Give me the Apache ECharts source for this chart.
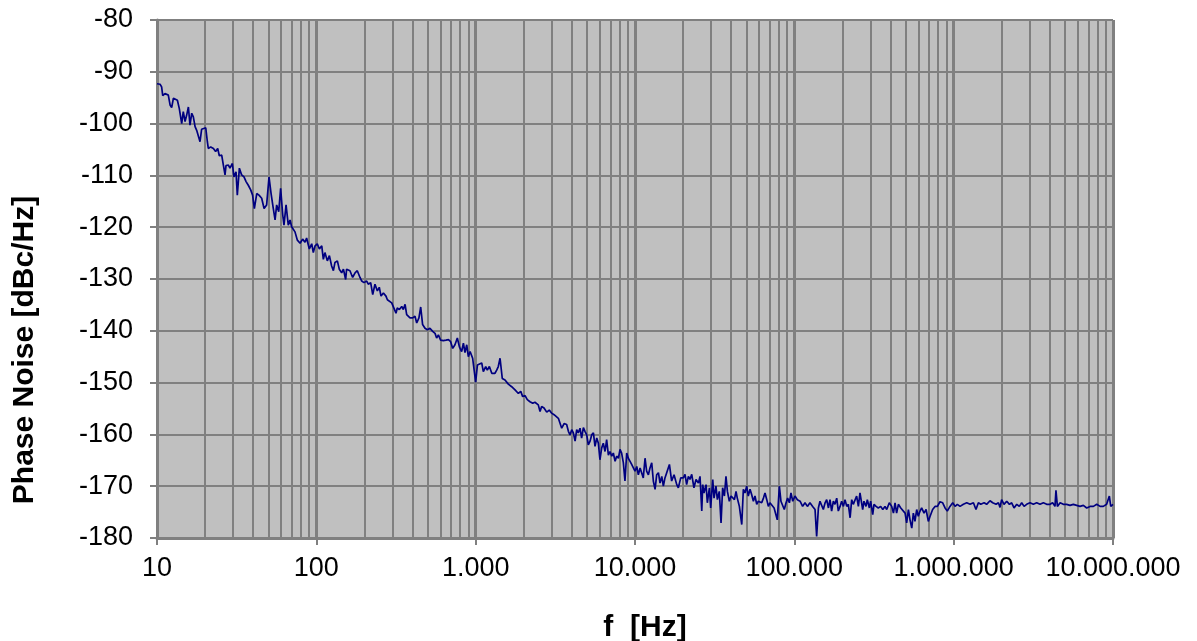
<!DOCTYPE html>
<html>
<head>
<meta charset="utf-8">
<script src="https://cdn.jsdelivr.net/npm/echarts@6/dist/echarts.min.js"></script>
<style>
html,body{margin:0;padding:0;background:#fff;}
#chart{width:1197px;height:641px;}
</style>
</head>
<body>
<div id="chart"></div>
<script>
// log10 of the offset frequency in Hz
const logFreq = [
1.000,1.019,1.029,1.036,1.050,1.061,1.071,1.082,1.092,1.103,1.113,1.128,1.140,1.155,1.165,1.176,1.186,1.197,1.207,1.218,
1.228,1.239,1.249,1.259,1.270,1.280,1.291,1.306,1.316,1.322,1.337,1.354,1.368,1.381,1.391,1.406,1.416,1.427,1.433,1.448,
1.458,1.473,1.483,1.496,1.504,1.517,1.531,1.546,1.559,1.573,1.588,1.600,1.611,1.626,1.640,1.657,1.672,1.688,1.703,1.716,
1.730,1.741,1.751,1.764,1.776,1.789,1.797,1.810,1.824,1.835,1.845,1.856,1.866,1.881,1.898,1.914,1.929,1.939,1.956,1.971,
1.981,1.992,
2.006,2.019,2.034,2.044,2.054,2.069,2.082,2.096,2.107,2.117,2.132,2.144,2.159,2.170,2.184,2.190,2.211,2.228,2.243,2.257,
2.274,2.285,2.299,2.316,2.326,2.341,2.354,2.368,2.383,2.395,2.406,2.421,2.437,2.446,2.458,2.473,2.483,2.500,2.508,2.521,
2.536,2.546,2.557,2.567,2.577,2.588,2.605,2.619,2.630,2.644,2.655,2.667,2.682,2.697,2.713,2.730,2.745,2.755,2.766,2.780,
2.797,2.814,2.829,2.843,2.856,2.870,2.885,2.898,2.912,2.923,2.933,2.944,2.954,2.965,2.981,2.990,
3.000,3.011,3.023,3.038,3.048,3.063,3.073,3.086,3.101,3.111,3.121,3.132,3.142,3.153,3.167,3.184,3.205,3.226,3.247,3.268,
3.283,3.295,3.310,3.324,3.341,3.358,3.372,3.393,3.404,3.414,3.429,3.446,3.462,3.477,3.492,3.504,3.519,3.529,3.540,3.555,
3.571,3.582,3.592,3.603,3.613,3.624,3.634,3.644,3.655,3.665,3.676,3.686,3.697,3.707,3.718,3.728,3.739,3.749,3.760,3.770,
3.780,3.791,3.801,3.812,3.822,3.833,3.843,3.854,3.864,3.875,3.885,3.896,3.906,3.916,3.927,3.937,3.948,3.958,3.969,3.979,
3.990,
4.000,4.011,4.021,4.032,4.042,4.052,4.063,4.073,4.084,4.094,4.105,4.115,4.126,4.136,4.147,4.157,4.168,4.178,4.188,4.199,
4.216,4.230,4.245,4.262,4.272,4.287,4.303,4.314,4.324,4.335,4.345,4.356,4.370,4.383,4.398,4.408,4.419,4.425,4.433,4.446,
4.454,4.467,4.475,4.488,4.496,4.508,4.517,4.529,4.540,4.550,4.561,4.571,4.580,4.592,4.603,4.613,4.624,4.634,4.642,4.655,
4.670,4.680,4.690,4.701,4.711,4.722,4.732,4.743,4.753,4.764,4.774,4.785,4.795,4.806,4.816,4.827,4.837,4.847,4.858,4.873,
4.885,4.893,4.906,4.916,4.927,4.937,4.948,4.958,4.969,4.979,4.990,
5.004,5.019,5.036,5.052,5.067,5.082,5.098,5.115,5.130,5.140,5.151,5.161,5.172,5.182,5.193,5.203,5.214,5.224,5.234,5.245,
5.255,5.266,5.276,5.287,5.297,5.308,5.318,5.329,5.339,5.350,5.360,5.370,5.381,5.391,5.402,5.412,5.429,5.437,5.450,5.458,
5.471,5.479,5.492,5.500,5.513,5.527,5.542,5.555,5.569,5.580,5.596,5.611,5.622,5.632,5.642,5.653,5.668,5.680,5.695,5.705,
5.716,5.726,5.737,5.747,5.757,5.768,5.778,5.789,5.799,5.814,5.827,5.841,5.852,5.868,5.883,5.898,5.914,5.931,5.946,5.960,
5.977,5.994,
6.009,6.023,6.040,6.061,6.082,6.103,6.124,6.140,6.155,6.170,6.191,6.207,6.228,6.245,6.266,6.281,6.291,6.301,6.316,6.333,
6.350,6.364,6.379,6.396,6.412,6.427,6.442,6.458,6.479,6.500,6.521,6.542,6.563,6.584,6.605,6.621,6.636,6.642,6.651,6.668,
6.688,6.709,6.730,6.751,6.772,6.793,6.814,6.835,6.856,6.877,6.898,6.919,6.939,6.960,6.977,6.986,7.000
];

// phase noise in dBc/Hz, one value per frequency above
const phaseNoise = [
-92.3,-92.4,-92.9,-94.6,-94.2,-94.0,-94.5,-96.4,-96.9,-95.1,-94.8,-95.5,-97.1,-100.0,-97.7,-99.6,-98.4,-96.8,-100.3,-98.0,
-98.7,-100.6,-101.3,-101.3,-103.5,-101.1,-101.0,-100.8,-103.5,-104.8,-104.5,-104.8,-105.4,-104.8,-106.2,-106.1,-107.9,-109.9,-108.1,-108.0,
-108.6,-107.7,-110.3,-109.3,-113.8,-108.6,-109.9,-110.3,-111.2,-111.9,-112.8,-113.8,-116.4,-113.5,-113.8,-114.4,-116.4,-115.7,-110.3,-113.5,
-116.4,-118.6,-115.7,-117.0,-112.5,-117.6,-119.6,-115.7,-119.6,-118.6,-119.9,-119.9,-120.9,-122.5,-123.1,-122.3,-122.9,-122.1,-124.2,-123.2,
-124.9,-123.6,
-123.2,-124.2,-123.6,-126.2,-124.9,-126.5,-125.5,-127.5,-128.4,-126.8,-126.5,-128.1,-128.8,-128.1,-130.1,-128.1,-128.4,-129.7,-128.8,-128.4,
-129.7,-130.4,-130.7,-130.4,-131.0,-130.7,-133.0,-131.0,-132.3,-131.6,-133.3,-132.7,-133.3,-134.0,-134.3,-134.6,-134.9,-136.6,-135.6,-135.9,
-135.3,-135.9,-134.9,-136.9,-136.6,-137.5,-137.5,-137.2,-138.5,-137.5,-135.4,-138.8,-139.5,-139.8,-139.5,-140.1,-140.5,-141.4,-140.8,-141.8,
-141.9,-141.8,-141.7,-142.1,-143.4,-142.7,-141.4,-143.1,-144.0,-142.4,-144.2,-142.7,-145.0,-144.0,-145.3,-145.0,
-149.9,-146.6,-146.9,-146.2,-147.9,-146.9,-147.6,-146.9,-148.2,-147.9,-148.2,-147.6,-146.9,-145.3,-149.2,-149.5,-150.3,-150.8,-151.4,-152.1,
-151.7,-152.7,-152.5,-153.3,-153.7,-154.0,-153.8,-154.3,-155.6,-154.6,-154.9,-155.7,-155.3,-155.9,-156.2,-156.1,-156.9,-157.0,-158.8,-157.9,
-158.1,-159.4,-160.1,-159.1,-159.7,-161.3,-159.1,-159.7,-158.8,-160.7,-158.7,-159.4,-160.1,-162.0,-161.3,-160.1,-159.7,-162.3,-160.7,-161.7,
-164.9,-162.6,-161.7,-163.3,-161.0,-164.0,-163.3,-164.2,-163.6,-165.2,-164.2,-164.6,-162.9,-163.6,-165.5,-169.0,-163.6,-164.6,-165.2,-165.8,
-165.5,
-167.1,-166.2,-167.8,-166.5,-166.8,-168.4,-164.6,-167.1,-167.8,-166.5,-165.5,-169.0,-170.6,-167.8,-167.4,-169.4,-168.1,-170.0,-168.4,-167.4,
-165.8,-169.0,-167.8,-169.7,-170.3,-168.4,-168.4,-167.7,-169.7,-168.1,-168.7,-167.7,-170.3,-168.7,-169.4,-168.1,-174.8,-169.7,-171.3,-169.7,
-173.2,-170.3,-174.2,-168.7,-172.3,-170.0,-172.6,-171.0,-177.1,-170.3,-171.9,-168.1,-171.0,-172.9,-171.9,-171.6,-172.6,-171.0,-172.3,-173.9,
-177.4,-170.6,-171.3,-170.0,-171.9,-170.6,-171.6,-172.9,-171.9,-173.5,-172.9,-172.6,-173.2,-172.3,-171.3,-172.6,-173.9,-173.2,-173.2,-174.2,
-173.9,-176.5,-170.0,-172.9,-172.6,-174.5,-173.2,-172.3,-173.2,-171.3,-172.9,
-171.9,-172.6,-172.9,-173.9,-173.2,-173.9,-173.2,-173.9,-174.5,-179.7,-174.2,-172.9,-172.6,-174.5,-173.2,-172.6,-174.2,-172.6,-174.8,-172.9,
-173.5,-172.3,-174.8,-173.9,-172.9,-173.9,-172.6,-173.9,-173.5,-176.1,-172.6,-173.5,-173.2,-171.9,-173.9,-171.3,-174.5,-172.9,-173.9,-172.6,
-174.2,-172.9,-175.5,-173.5,-173.9,-174.2,-173.9,-174.5,-173.9,-174.5,-173.2,-173.9,-175.2,-173.2,-175.2,-173.5,-174.2,-173.9,-175.2,-177.1,
-174.5,-176.5,-178.1,-175.2,-176.8,-174.5,-175.8,-174.8,-174.2,-175.2,-174.5,-176.8,-175.8,-174.5,-173.9,-173.9,-173.0,-173.2,-174.2,-174.8,
-173.9,-173.2,
-173.9,-173.5,-173.9,-173.5,-173.2,-173.5,-173.2,-174.5,-173.2,-173.5,-173.2,-173.5,-172.8,-173.2,-173.5,-173.2,-174.1,-172.6,-173.5,-172.9,
-173.5,-173.2,-174.2,-173.5,-173.9,-173.2,-173.9,-173.5,-173.2,-173.5,-173.2,-173.5,-173.2,-173.5,-173.5,-173.2,-173.9,-170.8,-173.9,-173.2,
-173.5,-173.5,-173.7,-173.5,-173.7,-173.9,-173.7,-174.2,-173.9,-173.9,-173.5,-173.9,-173.9,-173.5,-171.9,-173.9,-173.5
];

// axis tick labels (German thousands separator)
const xTickValues = [10, 100, 1000, 10000, 100000, 1000000, 10000000];
const xTickLabels = ['10', '100', '1.000', '10.000', '100.000', '1.000.000', '10.000.000'];
const yTickLabels = ['-180', '-170', '-160', '-150', '-140', '-130', '-120', '-110', '-100', '-90', '-80'];

const xTitle = 'f  [Hz]';
const yTitle = 'Phase Noise [dBc/Hz]';

const seriesData = logFreq.map((e, i) => [Math.pow(10, e), phaseNoise[i]]);

// minor log gridlines (2..9 within each decade)
const minorLines = [];
for (let d = 0; d < xTickValues.length - 1; d++) {
  for (let m = 2; m <= 9; m++) minorLines.push({ xAxis: m * xTickValues[d] });
}

const FONT = '"Liberation Sans", Arial, Helvetica, sans-serif';
const GRAY = '#808080';

const chart = echarts.init(document.getElementById('chart'), null, { renderer: 'canvas' });
chart.setOption({
  animation: false,
  backgroundColor: '#ffffff',
  grid: {
    left: 157, right: 84, top: 20, bottom: 103,
    show: true, backgroundColor: '#C0C0C0', borderWidth: 0
  },
  xAxis: {
    type: 'log',
    logBase: 10,
    min: 10,
    max: 10000000,
    axisLine: { show: true, onZero: false, lineStyle: { color: GRAY, width: 3 } },
    axisTick: { show: true, length: 7, lineStyle: { color: GRAY, width: 2 } },
    axisLabel: {
      margin: 17,
      fontFamily: FONT, fontSize: 27, color: '#000',
      formatter: function (v) {
        const idx = xTickValues.findIndex(t => Math.abs(t - v) / t < 1e-6);
        return idx >= 0 ? xTickLabels[idx] : '';
      }
    },
    splitLine: { show: true, lineStyle: { color: GRAY, width: 3 } },
    minorTick: { show: false },
    minorSplitLine: { show: false }
  },
  yAxis: {
    type: 'value',
    min: -180,
    max: -80,
    interval: 10,
    axisLine: { show: true, onZero: false, lineStyle: { color: GRAY, width: 3 } },
    axisTick: { show: true, length: 7, lineStyle: { color: GRAY, width: 2 } },
    axisLabel: {
      margin: 24,
      fontFamily: FONT, fontSize: 27, color: '#000',
      formatter: function (v) {
        const idx = Math.round((v + 180) / 10);
        return yTickLabels[idx] !== undefined ? yTickLabels[idx] : String(v);
      }
    },
    splitLine: { show: true, lineStyle: { color: GRAY, width: 2 } }
  },
  graphic: [
    {
      type: 'text', x: 645, y: 628,
      style: {
        text: xTitle, fontFamily: FONT, fontSize: 30, fontWeight: 'bold', fill: '#000',
        textAlign: 'center', textVerticalAlign: 'middle'
      }
    },
    {
      type: 'text', x: 25, y: 350, rotation: Math.PI / 2,
      style: {
        text: yTitle, fontFamily: FONT, fontSize: 30, fontWeight: 'bold', fill: '#000',
        textAlign: 'center', textVerticalAlign: 'middle'
      }
    }
  ],
  series: [
    {
      type: 'line',
      data: [],
      z: 1,
      silent: true,
      markLine: {
        silent: true,
        z: 1,
        animation: false,
        symbol: ['none', 'none'],
        label: { show: false },
        lineStyle: { color: GRAY, width: 2, type: 'solid' },
        emphasis: { disabled: true },
        data: minorLines
      }
    },
    {
      type: 'line',
      z: 10,
      data: seriesData,
      showSymbol: false,
      symbol: 'none',
      clip: true,
      lineStyle: { color: '#000080', width: 1.7 }
    }
  ]
});
</script>
</body>
</html>
